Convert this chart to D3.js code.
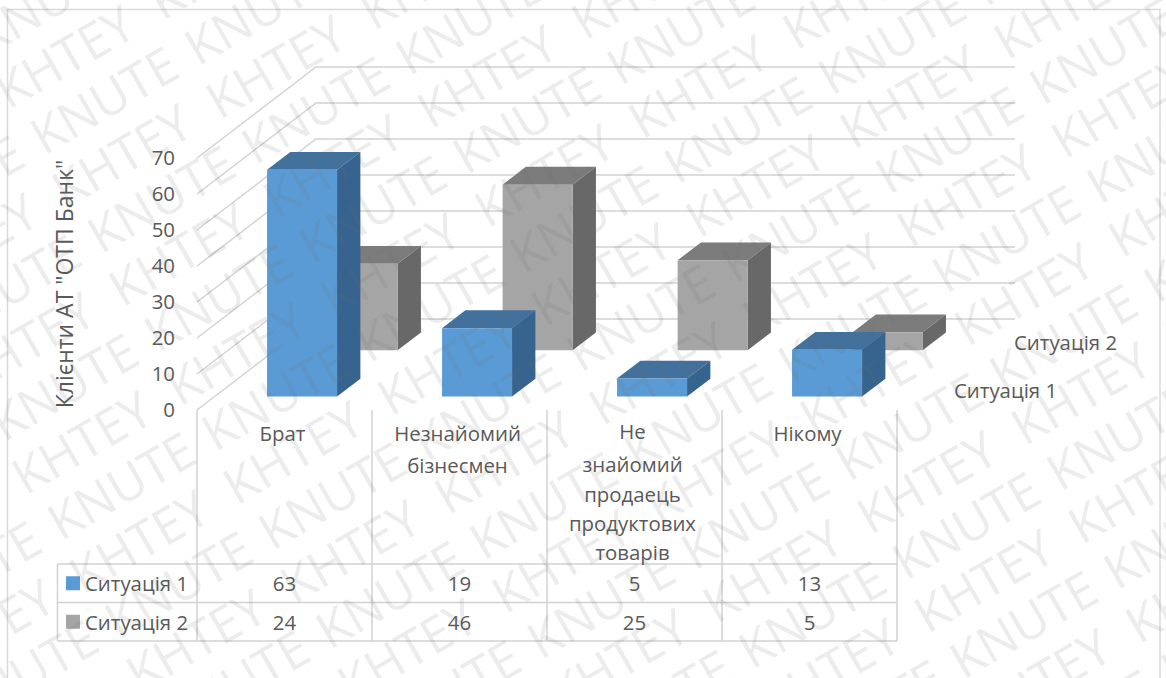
<!DOCTYPE html>
<html>
<head>
<meta charset="utf-8">
<script src="https://cdnjs.cloudflare.com/ajax/libs/d3/7.8.5/d3.min.js"></script>
<style>
html,body{margin:0;padding:0;background:#fff;}
svg{display:block;}
text{font-family:"Open Sans","Noto Sans",sans-serif;fill:#595959;}
</style>
</head>
<body>
<svg id="c" width="1166" height="678"></svg>
<script>
const categories = ["Брат", "Незнайомий бізнесмен", "Не знайомий продаець продуктових товарів", "Нікому"];
const categoryLines = [["Брат"], ["Незнайомий", "бізнесмен"], ["Не", "знайомий", "продаець", "продуктових", "товарів"], ["Нікому"]];
const seriesNames = ["Ситуація 1", "Ситуація 2"];
const situation1 = [63, 19, 5, 13];
const situation2 = [24, 46, 25, 5];
const yTicks = [0, 10, 20, 30, 40, 50, 60, 70];
const axisTitle = 'Клієнти АТ "ОТП Банк"';
const watermarkWords = ["KHTEY", "KNUTE"];

const FS = 20.4;
const svg = d3.select("#c");
const seriesValues = [situation1, situation2];
const fronts = ["#5b9bd5", "#a5a5a5"];
const tops = ["#41719c", "#7c7c7c"];
const sides = ["#36648f", "#686868"];
const lineCol = "#d2d2d2";

// scales
const x = d3.scaleBand().domain(categories).range([197, 897]).paddingInner(0.6).paddingOuter(0.3);
const y = d3.scaleLinear().domain([0, 70]).range([410, 158]);
const z = d3.scaleBand().domain(seriesNames).range([0, 2]).paddingInner(0.615).paddingOuter(0.29);
const depthX = d3.scaleLinear().domain([0, 2]).range([0, 119]);
const depthY = d3.scaleLinear().domain([0, 2]).range([0, 91]);

// chart frame
svg.append("path").attr("d", "M7.5,678V9.5H1160V678").attr("fill", "none").attr("stroke", "#d9d9d9").attr("stroke-width", 1.5);

// gridlines on left wall and back wall
const backX = x.range()[0] + depthX(2), backEnd = x.range()[1] + depthX(2) - 1;
svg.append("g").selectAll("path").data(yTicks).join("path")
  .attr("fill", "none").attr("stroke", lineCol).attr("stroke-width", 1.5)
  .attr("d", t => {
    const p = d3.path();
    p.moveTo(x.range()[0], y(t));
    p.lineTo(backX, y(t) - depthY(2));
    p.lineTo(backEnd, y(t) - depthY(2));
    return p.toString();
  });

// y axis
const axis = svg.append("g").attr("transform", "translate(175,0)")
  .call(d3.axisLeft(y).tickValues(yTicks).tickSize(0).tickPadding(0).tickFormat(d3.format("d")));
axis.select(".domain").remove();
axis.selectAll("text").style("font-size", FS + "px").attr("fill", "#595959").attr("font-family", null);

svg.append("text").attr("transform", "translate(64,284) rotate(-90)")
  .attr("text-anchor", "middle").attr("dominant-baseline", "central")
  .style("font-size", "23px").text(axisTitle);

// bars: back series first, left to right
[1, 0].forEach(s => {
  const name = seriesNames[s];
  const d0 = z(name), d1 = d0 + z.bandwidth();
  const g = svg.append("g").selectAll("g").data(seriesValues[s]).join("g");
  const pt = (i, v, d, right) => {
    const cx = x(categories[i]) + (right ? x.bandwidth() : 0) + depthX(d);
    const cy = y(v) - depthY(d);
    return [cx, cy];
  };
  const poly = pts => "M" + pts.map(p => p.join(",")).join("L") + "Z";
  g.append("path").attr("fill", tops[s]).attr("d", (v, i) => poly([
    pt(i, v, d0, false), pt(i, v, d0, true), pt(i, v, d1, true), pt(i, v, d1, false)]));
  g.append("path").attr("fill", sides[s]).attr("d", (v, i) => poly([
    pt(i, v, d0, true), pt(i, v, d1, true), pt(i, 0, d1, true), pt(i, 0, d0, true)]));
  g.append("path").attr("fill", fronts[s]).attr("d", (v, i) => poly([
    pt(i, v, d0, false), pt(i, v, d0, true), pt(i, 0, d0, true), pt(i, 0, d0, false)]));
});

// depth-axis labels
svg.append("g").selectAll("text").data(seriesNames).join("text")
  .attr("x", (d, i) => [954, 1014][i]).attr("y", (d, i) => [390, 342][i])
  .attr("dominant-baseline", "central").style("font-size", FS + "px").text(d => d);

// data table
const rowTop = 564, rowH = 38.5, tableLeft = 57.5;
const stepX = x.step();
const left = x.range()[0], right = x.range()[1];
const grid = svg.append("g").attr("stroke", lineCol).attr("stroke-width", 1.5).attr("fill", "none");
d3.range(0, categories.length + 1).forEach(i => {
  const vx = left + i * stepX;
  grid.append("line").attr("x1", vx).attr("x2", vx).attr("y1", 410).attr("y2", rowTop + 2 * rowH);
});
d3.range(0, 3).forEach(i => {
  grid.append("line").attr("x1", tableLeft).attr("x2", right).attr("y1", rowTop + i * rowH).attr("y2", rowTop + i * rowH);
});
grid.append("line").attr("x1", tableLeft).attr("x2", tableLeft).attr("y1", rowTop).attr("y2", rowTop + 2 * rowH);

seriesNames.forEach((name, s) => {
  const cy = rowTop + rowH * (s + 0.5);
  svg.append("rect").attr("x", 66).attr("y", cy - 7).attr("width", 14).attr("height", 14).attr("fill", fronts[s]);
  svg.append("text").attr("x", 85).attr("y", cy).attr("dominant-baseline", "central")
    .style("font-size", FS + "px").text(name);
  svg.append("g").selectAll("text").data(seriesValues[s]).join("text")
    .attr("x", (v, i) => x(categories[i]) + x.bandwidth() / 2)
    .attr("y", cy).attr("text-anchor", "middle").attr("dominant-baseline", "central")
    .style("font-size", FS + "px").text(v => v);
});

// category labels
const catY = [[433], [433, 465], [431, 464, 494, 523, 552], [433]];
categoryLines.forEach((lines, i) => {
  svg.append("g").selectAll("text").data(lines).join("text")
    .attr("x", x(categories[i]) + x.bandwidth() / 2 - 2)
    .attr("y", (d, j) => catY[i][j])
    .attr("text-anchor", "middle").attr("dominant-baseline", "central")
    .style("font-size", FS + "px").text(d => d);
});

// watermark over the whole picture: rows alternate the word, each row repeats it
const wmAngle = -30, rad = wmAngle * Math.PI / 180, ax = 932, ay = 632;
const wm = svg.append("g").attr("transform", `translate(${ax},${ay}) rotate(${wmAngle})`).attr("pointer-events", "none");
d3.range(-30, 6).forEach(r => {
  d3.range(-9, 5).forEach(n => {
    const odd = ((r % 2) + 2) % 2;
    const u = (odd ? 3 : -5) + 178 * n, v = 57.1 * r;
    const cu = u + 75, cv = v - 17;
    const px = ax + cu * Math.cos(rad) - cv * Math.sin(rad);
    const py = ay + cu * Math.sin(rad) + cv * Math.cos(rad);
    if (px < -70 || px > 1236 || py < -50 || py > 728) return;
    wm.append("text").attr("x", u).attr("y", v)
      .style("font-size", "50px").style("fill", "rgba(110,110,110,0.13)")
      .text(watermarkWords[odd]);
  });
});
</script>
</body>
</html>
